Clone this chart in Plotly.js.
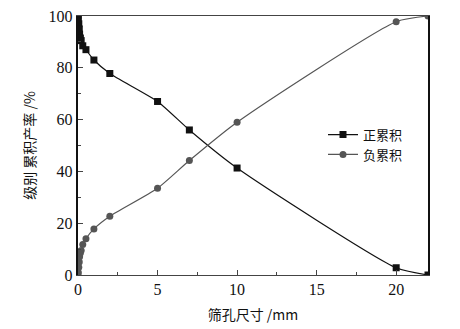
<!DOCTYPE html>
<html>
<head>
<meta charset="utf-8">
<script src="https://cdn.plot.ly/plotly-3.0.1.min.js"></script>
<style>
  body { margin: 0; background: #fff; }
  #chart { width: 460px; height: 329px; }
</style>
</head>
<body>
<div id="chart"></div>
<script>
// sieve size (mm) and cumulative yields (%)
var sieveSize   = [0, 0.02, 0.05, 0.08, 0.1, 0.15, 0.2, 0.3, 0.5, 1, 2, 5, 7, 10, 20, 22];
var positiveCum = [100, 99, 97, 95, 93, 91.5, 90.5, 88.5, 87, 83, 77.8, 67, 56, 41.3, 2.8, 0];
var negativeCum = [0, 1, 3, 5, 7, 8.5, 9.5, 11.8, 14, 17.8, 22.7, 33.5, 44.2, 59, 97.8, 100];
var seriesNames = ['正累积', '负累积'];
var xTicks = [0, 5, 10, 15, 20];
var yTicks = [0, 20, 40, 60, 80, 100];

var cjk = 'Noto Sans CJK SC, Noto Sans, sans-serif';
var serif = 'Liberation Serif';

var positive = {
  x: sieveSize, y: positiveCum, name: seriesNames[0],
  mode: 'lines+markers', type: 'scatter',
  line: {color: '#111', width: 1.2, shape: 'spline', smoothing: 0.6},
  marker: {symbol: 'square', size: 7, color: '#111'}
};
var negative = {
  x: sieveSize, y: negativeCum, name: seriesNames[1],
  mode: 'lines+markers', type: 'scatter',
  line: {color: '#555', width: 1.2, shape: 'spline', smoothing: 0.6},
  marker: {symbol: 'circle', size: 7, color: '#555'}
};

var layout = {
  width: 460, height: 329,
  paper_bgcolor: '#fff', plot_bgcolor: '#fff',
  margin: {l: 78, r: 32, t: 16, b: 54, pad: 0},
  showlegend: true,
  legend: {
    x: 0.7, y: 0.6, xanchor: 'left', yanchor: 'top',
    bgcolor: 'rgba(0,0,0,0)', borderwidth: 0, tracegroupgap: 0,
    font: {family: cjk, size: 13, color: '#111'}
  },
  xaxis: {
    range: [0, 22], tickvals: xTicks, ticktext: xTicks.map(String),
    showgrid: false, zeroline: false,
    showline: true, linecolor: '#444', linewidth: 1.2, mirror: true,
    ticks: 'inside', ticklen: 5, tickcolor: '#444', tickwidth: 1,
    minor: {dtick: 2.5, ticks: 'inside', ticklen: 3, tickcolor: '#444'},
    tickfont: {family: serif, size: 16, color: '#111'},
    title: {text: '筛孔尺寸 /mm', font: {family: cjk, size: 14, color: '#111'}, standoff: 12}
  },
  yaxis: {
    range: [0, 100], tickvals: yTicks, ticktext: yTicks.map(String),
    showgrid: false, zeroline: false,
    showline: true, linecolor: '#111', linewidth: 2.2, mirror: true,
    ticks: 'inside', ticklen: 5, tickcolor: '#444', tickwidth: 1,
    minor: {dtick: 10, ticks: 'inside', ticklen: 3, tickcolor: '#444'},
    tickfont: {family: serif, size: 16, color: '#111'},
    title: {text: '级别 累积产率 /%', font: {family: cjk, size: 14, color: '#111'}, standoff: 10}
  }
};

Plotly.newPlot('chart', [positive, negative], layout, {displayModeBar: false, staticPlot: true});
</script>
</body>
</html>
